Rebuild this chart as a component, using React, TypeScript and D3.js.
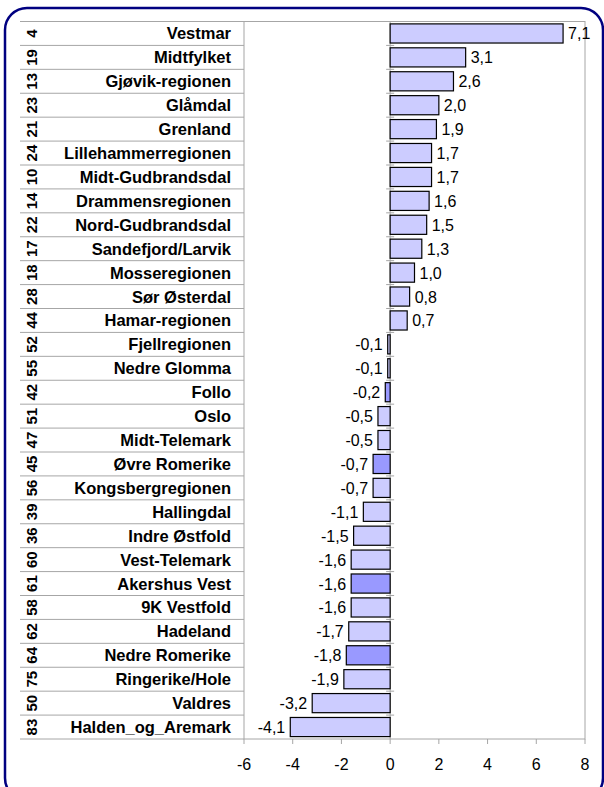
import React from "react";
import * as d3 from "d3";

const codes = ["4","19","13","23","21","24","10","14","22","17","18","28","44","52","55","42","51","47","45","56","39","36","60","61","58","62","64","75","50","83"];
const regions = ["Vestmar","Midtfylket","Gjøvik-regionen","Glåmdal","Grenland","Lillehammerregionen","Midt-Gudbrandsdal","Drammensregionen","Nord-Gudbrandsdal","Sandefjord/Larvik","Mosseregionen","Sør Østerdal","Hamar-regionen","Fjellregionen","Nedre Glomma","Follo","Oslo","Midt-Telemark","Øvre Romerike","Kongsbergregionen","Hallingdal","Indre Østfold","Vest-Telemark","Akershus Vest","9K Vestfold","Hadeland","Nedre Romerike","Ringerike/Hole","Valdres","Halden_og_Aremark"];
const values = [7.1,3.1,2.6,2.0,1.9,1.7,1.7,1.6,1.5,1.3,1.0,0.8,0.7,-0.1,-0.1,-0.2,-0.5,-0.5,-0.7,-0.7,-1.1,-1.5,-1.6,-1.6,-1.6,-1.7,-1.8,-1.9,-3.2,-4.1];
const highlighted = ["Follo","Øvre Romerike","Akershus Vest","Nedre Romerike"];
const xTicks = [-6,-4,-2,0,2,4,6,8];

export default function App() {
  const W = 604, H = 787;
  const plotL = 244, plotR = 585, plotT = 21.5, plotB = 739;
  const x = d3.scaleLinear().domain([-6, 8]).range([plotL, plotR]);
  const y = d3.scaleBand<string>().domain(regions).range([plotT, plotB]).paddingInner(0.2).paddingOuter(0.1);
  const yRow = d3.scaleBand<string>().domain(regions).range([plotT, plotB]);
  const fmt = (v: number) => v.toFixed(1).replace(".", ",");
  const font = "Arial, 'Liberation Sans', sans-serif";
  const grid = "#a6a6a6";
  return (
    <svg width={W} height={H} style={{ position: "absolute", left: 0, top: 0 }} fontFamily={font}>
      <rect x={0} y={0} width={W} height={H} fill="#fff" />
      <rect x={5} y={8} width={598} height={792} rx={22} ry={22} fill="none" stroke="#000080" strokeWidth={2.5} />
      {regions.map((r, i) => (
        <line key={"hl" + i} x1={20} x2={plotL} y1={yRow(r)!} y2={yRow(r)!} stroke={grid} strokeWidth={1} />
      ))}
      <line x1={20} x2={plotL} y1={plotB} y2={plotB} stroke={grid} strokeWidth={1} />
      <rect x={plotL} y={plotT} width={plotR - plotL} height={plotB - plotT} fill="none" stroke={grid} strokeWidth={1} />
      {regions.map((r, i) => (
        <line key={"zt" + i} x1={x(0) - 4} x2={x(0) + 4} y1={yRow(r)!} y2={yRow(r)!} stroke={grid} strokeWidth={1} />
      ))}
      <line x1={x(0)} x2={x(0)} y1={plotT} y2={plotB} stroke={grid} strokeWidth={1} />
      {xTicks.map((t) => (
        <g key={"xt" + t}>
          <line x1={x(t)} x2={x(t)} y1={plotB} y2={plotB + 5} stroke={grid} strokeWidth={1} />
          <text x={x(t)} y={plotB + 31} fontSize={16} textAnchor="middle" fill="#000">{t}</text>
        </g>
      ))}
      {regions.map((r, i) => {
        const v = values[i];
        const x0 = Math.min(x(0), x(v));
        const w = Math.abs(x(v) - x(0));
        const fill = highlighted.includes(r) ? "#9999ff" : "#ccccff";
        return (
          <g key={"b" + i}>
            <rect x={x0} y={y(r)!} width={w} height={y.bandwidth()} fill={fill} stroke="#000" strokeWidth={1.2} />
            <text x={v >= 0 ? x(v) + 5 : x(v) - 5} y={y(r)! + y.bandwidth() / 2 + 6} fontSize={16}
              textAnchor={v >= 0 ? "start" : "end"} fill="#000">{fmt(v)}</text>
          </g>
        );
      })}
      {regions.map((r, i) => {
        const cy = yRow(r)! + yRow.bandwidth() / 2;
        return (
          <g key={"l" + i}>
            <text x={231} y={cy + 6} fontSize={16.5} fontWeight="bold" textAnchor="end" fill="#000">{r}</text>
            <text transform={`translate(${37},${cy}) rotate(-90)`} fontSize={15} fontWeight="bold" textAnchor="middle" fill="#000">{codes[i]}</text>
          </g>
        );
      })}
    </svg>
  );
}
